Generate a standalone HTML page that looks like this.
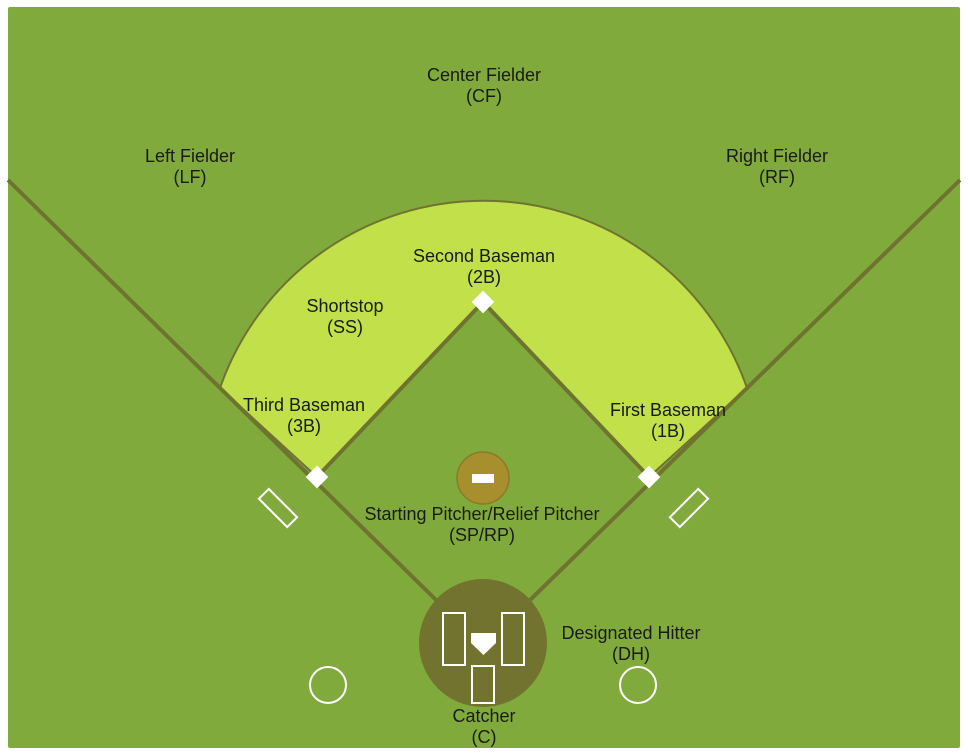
<!DOCTYPE html>
<html><head><meta charset="utf-8"><style>
html,body{margin:0;padding:0;background:#fff;width:968px;height:756px;overflow:hidden}
text{font-family:"Liberation Sans",Arial,sans-serif;font-size:18px;fill:#1a1a1a;text-anchor:middle}
</style></head><body>
<svg width="968" height="756" viewBox="0 0 968 756">
<rect x="8" y="7" width="952" height="741" rx="2" fill="#81aa3d"/>
<path d="M317,477 L220,388 A279,279 0 0 1 747,388 L649,477 L483,302 Z" fill="#c2e04a" stroke="#6f7330" stroke-width="2"/>
<line x1="8" y1="180" x2="483" y2="646" stroke="#6f7330" stroke-width="4"/>
<line x1="960" y1="180" x2="483" y2="646" stroke="#6f7330" stroke-width="4"/>
<line x1="317" y1="477" x2="483" y2="302" stroke="#6f7330" stroke-width="4"/>
<line x1="649" y1="477" x2="483" y2="302" stroke="#6f7330" stroke-width="4"/>
<rect x="-8" y="-8" width="16" height="16" fill="#fff" transform="translate(483,302) rotate(45)"/>
<rect x="-8" y="-8" width="16" height="16" fill="#fff" transform="translate(317,477) rotate(45)"/>
<rect x="-8" y="-8" width="16" height="16" fill="#fff" transform="translate(649,477) rotate(45)"/>
<rect x="-20" y="-7" width="40" height="14" fill="none" stroke="#fff" stroke-width="2" transform="translate(278,508) rotate(45)"/>
<rect x="-20" y="-7" width="40" height="14" fill="none" stroke="#fff" stroke-width="2" transform="translate(689,508) rotate(-45)"/>
<circle cx="483" cy="478" r="26" fill="#a88f2e" stroke="#8a7a2a" stroke-width="1.5"/>
<rect x="472" y="474" width="22" height="9" fill="#fff"/>
<circle cx="483" cy="643" r="64" fill="#72732e"/>
<rect x="443" y="613" width="22" height="52" fill="none" stroke="#fff" stroke-width="2"/>
<rect x="502" y="613" width="22" height="52" fill="none" stroke="#fff" stroke-width="2"/>
<rect x="472" y="666" width="22" height="37" fill="none" stroke="#fff" stroke-width="2"/>
<path d="M471,633 L496,633 L496,643 L483.5,655 L471,643 Z" fill="#fff"/>
<circle cx="328" cy="685" r="18" fill="none" stroke="#fff" stroke-width="2"/>
<circle cx="638" cy="685" r="18" fill="none" stroke="#fff" stroke-width="2"/>
<text x="484" y="81"><tspan x="484">Center Fielder</tspan><tspan x="484" dy="21">(CF)</tspan></text>
<text x="190" y="162"><tspan x="190">Left Fielder</tspan><tspan x="190" dy="21">(LF)</tspan></text>
<text x="777" y="162"><tspan x="777">Right Fielder</tspan><tspan x="777" dy="21">(RF)</tspan></text>
<text x="484" y="262"><tspan x="484">Second Baseman</tspan><tspan x="484" dy="21">(2B)</tspan></text>
<text x="345" y="312"><tspan x="345">Shortstop</tspan><tspan x="345" dy="21">(SS)</tspan></text>
<text x="304" y="411"><tspan x="304">Third Baseman</tspan><tspan x="304" dy="21">(3B)</tspan></text>
<text x="668" y="416"><tspan x="668">First Baseman</tspan><tspan x="668" dy="21">(1B)</tspan></text>
<text x="482" y="520"><tspan x="482">Starting Pitcher/Relief Pitcher</tspan><tspan x="482" dy="21">(SP/RP)</tspan></text>
<text x="631" y="639"><tspan x="631">Designated Hitter</tspan><tspan x="631" dy="21">(DH)</tspan></text>
<text x="484" y="722"><tspan x="484">Catcher</tspan><tspan x="484" dy="21">(C)</tspan></text>
</svg>
</body></html>
